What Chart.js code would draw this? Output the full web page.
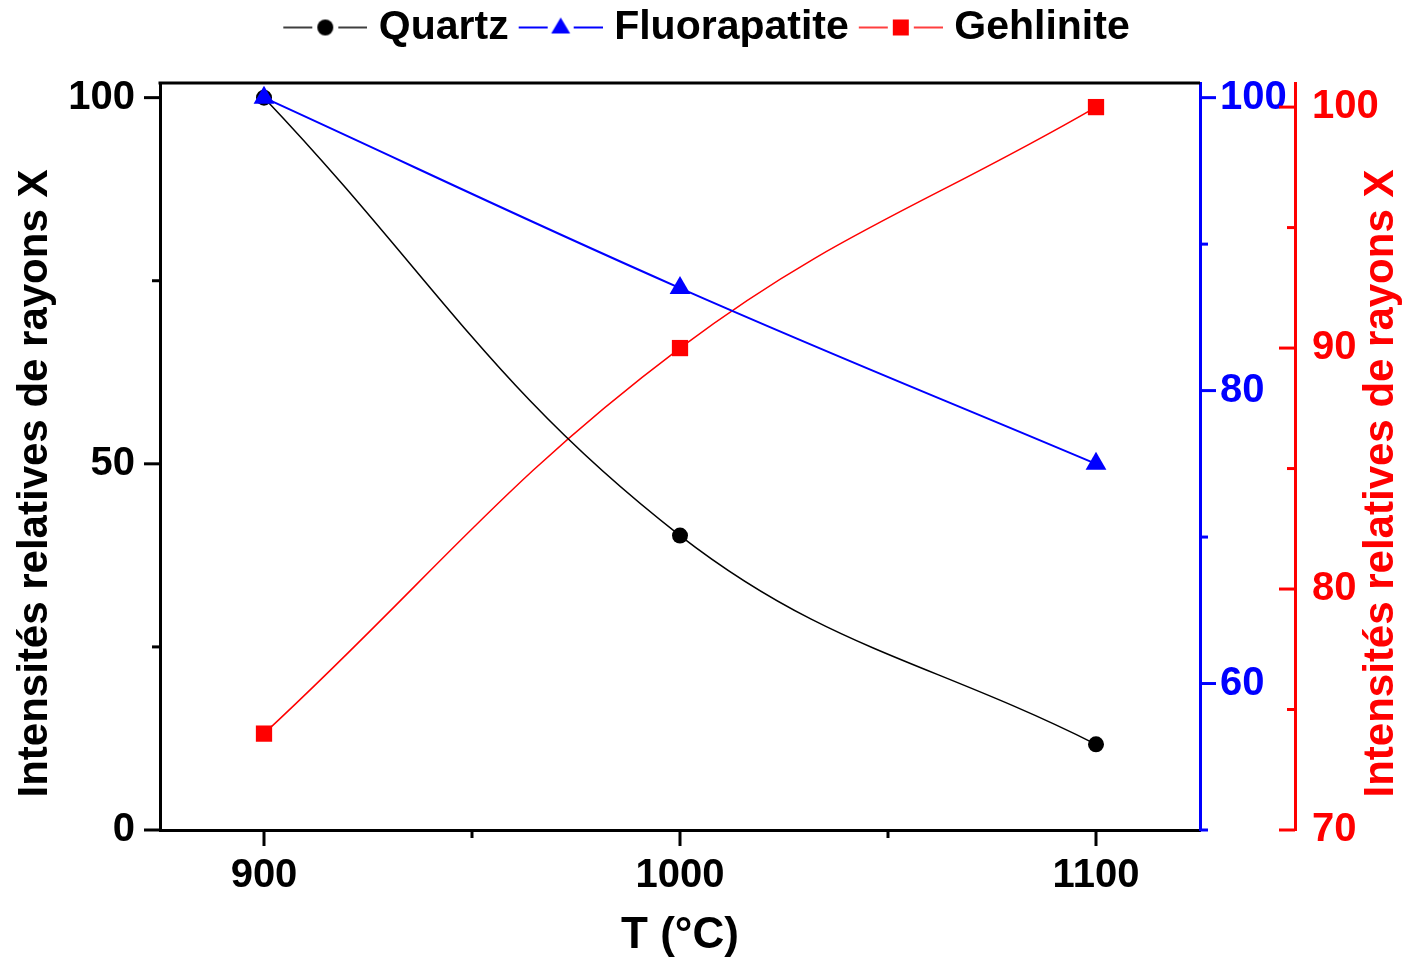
<!DOCTYPE html>
<html>
<head>
<meta charset="utf-8">
<script src="https://cdn.jsdelivr.net/npm/chart.js@4/dist/chart.umd.min.js"></script>
<style>
  body { margin: 0; background: #fff; }
  #chart { display: block; }
</style>
</head>
<body>
<canvas id="chart" width="1410" height="964"></canvas>
<script>
const temps = [900, 1000, 1100];
const quartz = [100, 40.2, 11.7];
const fluorapatite = [100, 87, 75];
const gehlinite = [74, 90, 100];

const xMajor = [900, 1000, 1100];
const xMinor = [950, 1050];
const leftMajor = [0, 50, 100];
const leftMinor = [25, 75];
const blueMajor = [60, 80, 100];
const blueMinor = [50, 70, 90];
const redMajor = [70, 80, 90, 100];
const redMinor = [75, 85, 95];

const yTitle = 'Intensités relatives de rayons X';
const FONT = "'Liberation Sans', Arial, sans-serif";
const BLUE = '#0000ff';
const RED = '#ff0000';

function toPoints(ys) {
  return temps.map((t, i) => ({ x: t, y: ys[i] }));
}

// legend icon: short line, marker, short line
function legendIcon(color, style, lw) {
  const c = document.createElement('canvas');
  c.width = 96;
  c.height = 24;
  const g = c.getContext('2d');
  g.strokeStyle = color;
  g.fillStyle = color;
  g.lineWidth = lw;
  g.beginPath();
  g.moveTo(12, 12); g.lineTo(41, 12);
  g.moveTo(67, 12); g.lineTo(96, 12);
  g.stroke();
  g.beginPath();
  if (style === 'circle') {
    g.arc(54, 12, 8, 0, Math.PI * 2);
  } else if (style === 'triangle') {
    g.moveTo(54, 2); g.lineTo(63.5, 18); g.lineTo(44.5, 18); g.closePath();
  } else {
    g.rect(46, 4, 16, 16);
  }
  g.fill();
  return c;
}

const icons = [
  legendIcon('#000', 'circle', 1.5),
  legendIcon(BLUE, 'triangle', 2),
  legendIcon(RED, 'rect', 1.5)
];

function setTicks(values) {
  return scale => { scale.ticks = values.map(v => ({ value: v })); };
}

// ticks drawn by hand: majors long, minors short, direction per axis
const tickSpecs = {
  x: { major: xMajor, minor: xMinor, dir: 1, color: '#000' },
  y: { major: leftMajor, minor: leftMinor, dir: -1, color: '#000' },
  y1: { major: blueMajor, minor: blueMinor, dir: 1, color: BLUE },
  y2: { major: redMajor, minor: redMinor, dir: -1, color: RED }
};

const axisDecor = {
  id: 'axisDecor',
  beforeInit(chart) {
    const fit = chart.legend.fit;
    chart.legend.fit = function () {
      fit.bind(chart.legend)();
      this.height += 25;
    };
  },
  afterDraw(chart) {
    const ctx = chart.ctx;
    const area = chart.chartArea;
    ctx.save();
    ctx.lineWidth = 3;
    ctx.lineCap = 'butt';

    // top frame
    ctx.strokeStyle = '#000';
    ctx.beginPath();
    ctx.moveTo(area.left - 1.5, area.top);
    ctx.lineTo(area.right, area.top);
    ctx.stroke();

    Object.keys(tickSpecs).forEach(id => {
      const s = chart.scales[id];
      const spec = tickSpecs[id];
      ctx.strokeStyle = spec.color;
      const draw = (v, len) => {
        const p = s.getPixelForValue(v);
        ctx.beginPath();
        if (id === 'x') {
          ctx.moveTo(p, s.top);
          ctx.lineTo(p, s.top + len);
        } else {
          const x0 = s.position === 'left' ? s.right : s.left;
          ctx.moveTo(x0, p);
          ctx.lineTo(x0 + spec.dir * len, p);
        }
        ctx.stroke();
      };
      spec.major.forEach(v => draw(v, 16));
      spec.minor.forEach(v => draw(v, 8));
    });

    // vertical axis titles (both read bottom to top)
    const midY = (area.top + area.bottom) / 2 + 27;
    ctx.font = 'bold 42px ' + FONT;
    ctx.textAlign = 'center';
    ctx.textBaseline = 'middle';
    [[35, '#000'], [1381, RED]].forEach(([x, col]) => {
      ctx.save();
      ctx.translate(x, midY);
      ctx.rotate(-Math.PI / 2);
      ctx.fillStyle = col;
      ctx.fillText(yTitle, 0, 0);
      ctx.restore();
    });
    ctx.restore();
  }
};

const tickFont = { family: FONT, size: 40, weight: 'bold' };

new Chart(document.getElementById('chart'), {
  type: 'line',
  data: {
    datasets: [
      {
        label: 'Quartz',
        data: toPoints(quartz),
        yAxisID: 'y',
        order: 1,
        borderColor: '#000',
        backgroundColor: '#000',
        borderWidth: 1.5,
        pointStyle: 'circle',
        pointRadius: 8,
        pointBorderWidth: 0,
        tension: 0.4
      },
      {
        label: 'Fluorapatite',
        data: toPoints(fluorapatite),
        yAxisID: 'y1',
        order: 0,
        borderColor: BLUE,
        backgroundColor: BLUE,
        borderWidth: 2,
        pointStyle: 'triangle',
        pointRadius: 12,
        pointBorderWidth: 0,
        tension: 0.4
      },
      {
        label: 'Gehlinite',
        data: toPoints(gehlinite),
        yAxisID: 'y2',
        order: 2,
        borderColor: RED,
        backgroundColor: RED,
        borderWidth: 1.5,
        pointStyle: 'rect',
        pointRadius: 11.5,
        pointBorderWidth: 0,
        tension: 0.4
      }
    ]
  },
  options: {
    responsive: false,
    devicePixelRatio: 1,
    animation: false,
    layout: { padding: 0 },
    plugins: {
      tooltip: { enabled: false },
      legend: {
        position: 'top',
        align: 'center',
        labels: {
          usePointStyle: true,
          pointStyleWidth: 78,
          padding: 7,
          color: '#000',
          font: { family: FONT, size: 41, weight: 'bold' },
          generateLabels(chart) {
            const items = Chart.defaults.plugins.legend.labels.generateLabels(chart);
            items.sort((a, b) => a.datasetIndex - b.datasetIndex);
            items.forEach(it => { it.pointStyle = icons[it.datasetIndex]; });
            return items;
          }
        }
      }
    },
    scales: {
      x: {
        type: 'linear',
        min: 875,
        max: 1125,
        afterBuildTicks: setTicks(xMajor),
        afterFit: s => { s.height = 134; },
        grid: { display: false },
        border: { color: '#000', width: 3 },
        ticks: { font: tickFont, color: '#000', padding: 14, callback: v => String(v) },
        title: {
          display: true,
          text: 'T (°C)',
          color: '#000',
          font: { family: FONT, size: 44, weight: 'bold' },
          padding: { top: 0, bottom: 2 }
        }
      },
      y: {
        position: 'left',
        min: 0,
        max: 102,
        afterBuildTicks: setTicks(leftMajor),
        afterFit: s => { s.width = 160; },
        grid: { display: false },
        border: { color: '#000', width: 3 },
        ticks: { font: tickFont, color: '#000', padding: 17, callback: v => String(v) }
      },
      y1: {
        position: 'right',
        weight: 0,
        min: 50,
        max: 101,
        afterBuildTicks: setTicks(blueMajor),
        afterFit: s => { s.width = 95; },
        grid: { display: false },
        border: { color: BLUE, width: 3 },
        ticks: { font: tickFont, color: BLUE, padding: 12, callback: v => String(v) }
      },
      y2: {
        position: 'right',
        weight: 1,
        min: 70,
        max: 101,
        afterBuildTicks: setTicks(redMajor),
        afterFit: s => { s.width = 115; },
        grid: { display: false },
        border: { color: RED, width: 3 },
        ticks: { font: tickFont, color: RED, padding: 9, callback: v => String(v) }
      }
    }
  },
  plugins: [axisDecor]
});
</script>
</body>
</html>
